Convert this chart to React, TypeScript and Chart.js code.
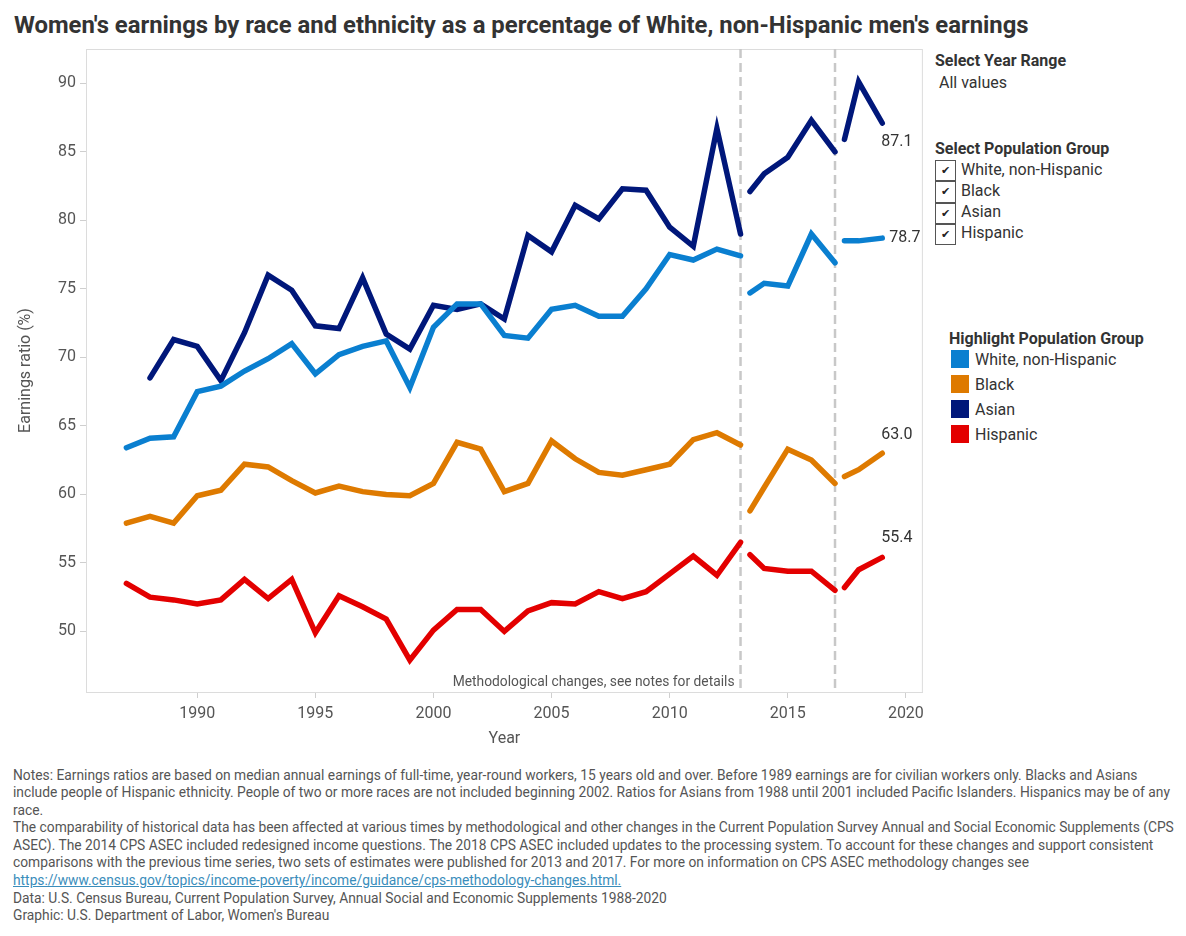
import React, { useEffect, useRef } from "react";
import { Chart, registerables } from "chart.js";

Chart.register(...registerables);

// ---------- Data ----------
const yearsMain = [
  1987, 1988, 1989, 1990, 1991, 1992, 1993, 1994, 1995, 1996, 1997, 1998, 1999,
  2000, 2001, 2002, 2003, 2004, 2005, 2006, 2007, 2008, 2009, 2010, 2011, 2012, 2013,
];
// second set of estimates (published after the 2014 and 2018 methodological changes)
const years2013Revised = [2013.4, 2014, 2015, 2016, 2017];
const years2017Revised = [2017.4, 2018, 2019];

const xTicks = [1990, 1995, 2000, 2005, 2010, 2015, 2020];
const yTicks = [50, 55, 60, 65, 70, 75, 80, 85, 90];
const methodChangeYears = [2013, 2017];

const whiteMain = [
  63.4, 64.1, 64.2, 67.5, 67.9, 69.0, 69.9, 71.0, 68.8, 70.2, 70.8, 71.2, 67.8,
  72.2, 73.9, 73.9, 71.6, 71.4, 73.5, 73.8, 73.0, 73.0, 75.0, 77.5, 77.1, 77.9, 77.4,
];
const white2013 = [74.7, 75.4, 75.2, 79.0, 76.9];
const white2017 = [78.5, 78.5, 78.7];

const blackMain = [
  57.9, 58.4, 57.9, 59.9, 60.3, 62.2, 62.0, 61.0, 60.1, 60.6, 60.2, 60.0, 59.9,
  60.8, 63.8, 63.3, 60.2, 60.8, 63.9, 62.6, 61.6, 61.4, 61.8, 62.2, 64.0, 64.5, 63.6,
];
const black2013 = [58.8, 60.5, 63.3, 62.5, 60.8];
const black2017 = [61.3, 61.8, 63.0];

const asianMain = [
  null, 68.5, 71.3, 70.8, 68.3, 71.8, 76.0, 74.9, 72.3, 72.1, 75.8, 71.7, 70.6,
  73.8, 73.5, 73.9, 72.8, 78.9, 77.7, 81.1, 80.1, 82.3, 82.2, 79.5, 78.1, 86.7, 79.0,
];
const asian2013 = [82.1, 83.4, 84.6, 87.3, 85.0];
const asian2017 = [85.9, 90.1, 87.1];

const hispanicMain = [
  53.5, 52.5, 52.3, 52.0, 52.3, 53.8, 52.4, 53.8, 49.9, 52.6, 51.8, 50.9, 47.9,
  50.1, 51.6, 51.6, 50.0, 51.5, 52.1, 52.0, 52.9, 52.4, 52.9, 54.2, 55.5, 54.1, 56.5,
];
const hispanic2013 = [55.6, 54.6, 54.4, 54.4, 53.0];
const hispanic2017 = [53.2, 54.5, 55.4];

const seriesNames = ["White, non-Hispanic", "Black", "Asian", "Hispanic"];
const seriesColors = ["#0a7fd0", "#de7a00", "#00177a", "#e30000"];

// ---------- Helpers ----------
type Pt = { x: number; y: number | null };

function buildPoints(main: (number | null)[], seg2: number[], seg3: number[]): Pt[] {
  const pts: Pt[] = [];
  main.forEach((v, i) => pts.push({ x: yearsMain[i], y: v }));
  pts.push({ x: (yearsMain[yearsMain.length - 1] + years2013Revised[0]) / 2, y: null });
  seg2.forEach((v, i) => pts.push({ x: years2013Revised[i], y: v }));
  pts.push({ x: (years2013Revised[years2013Revised.length - 1] + years2017Revised[0]) / 2, y: null });
  seg3.forEach((v, i) => pts.push({ x: years2017Revised[i], y: v }));
  return pts;
}

const seriesData = [
  buildPoints(whiteMain, white2013, white2017),
  buildPoints(blackMain, black2013, black2017),
  buildPoints(asianMain, asian2013, asian2017),
  buildPoints(hispanicMain, hispanic2013, hispanic2017),
];

// end-label placement relative to the last point: [dx, dy]
const endLabelOffsets: [number, number][] = [
  [7, 0],
  [-1, -18],
  [-1, 19],
  [-1, -19],
];

const FONT = "Roboto";

const overlayPlugin = {
  id: "overlay",
  beforeDatasetsDraw(chart: any) {
    const { ctx, chartArea, scales } = chart;
    ctx.save();
    // plot frame
    ctx.strokeStyle = "#dcdcdc";
    ctx.lineWidth = 1;
    ctx.strokeRect(chartArea.left + 0.5, chartArea.top + 0.5, chartArea.right - chartArea.left - 1, chartArea.bottom - chartArea.top);
    // dashed methodological-change lines
    ctx.strokeStyle = "#c8c8c8";
    ctx.lineWidth = 2.5;
    ctx.setLineDash([9, 5]);
    methodChangeYears.forEach((yr) => {
      const x = scales.x.getPixelForValue(yr);
      ctx.beginPath();
      ctx.moveTo(x, chartArea.top);
      ctx.lineTo(x, chartArea.bottom);
      ctx.stroke();
    });
    ctx.setLineDash([]);
    // annotation
    ctx.fillStyle = "#555";
    ctx.font = `13.8px ${FONT}`;
    ctx.textAlign = "right";
    ctx.textBaseline = "middle";
    ctx.fillText(
      "Methodological changes, see notes for details",
      scales.x.getPixelForValue(methodChangeYears[0]) - 6,
      chartArea.bottom - 9
    );
    ctx.restore();
  },
  afterDatasetsDraw(chart: any) {
    const { ctx, scales } = chart;
    ctx.save();
    ctx.fillStyle = "#333";
    ctx.font = `16px ${FONT}`;
    ctx.textAlign = "left";
    ctx.textBaseline = "middle";
    seriesData.forEach((pts, i) => {
      const last = pts[pts.length - 1];
      const x = scales.x.getPixelForValue(last.x) + endLabelOffsets[i][0];
      const y = scales.y.getPixelForValue(last.y as number) + endLabelOffsets[i][1];
      ctx.fillText((last.y as number).toFixed(1), x, y);
    });
    ctx.restore();
  },
};

function ChartCanvas() {
  const ref = useRef<HTMLCanvasElement | null>(null);
  useEffect(() => {
    if (!ref.current) return;
    Chart.defaults.font.family = FONT;
    const chart = new Chart(ref.current, {
      type: "line",
      data: {
        datasets: seriesData.map((pts, i) => ({
          label: seriesNames[i],
          data: pts as any,
          borderColor: seriesColors[i],
          backgroundColor: seriesColors[i],
          borderWidth: 5.5,
          borderCapStyle: "round",
          borderJoinStyle: "miter",
          pointRadius: 0,
          pointHoverRadius: 0,
          spanGaps: false,
          tension: 0,
        })),
      },
      options: {
        animation: false,
        responsive: false,
        devicePixelRatio: 1,
        layout: { padding: { top: 49, right: 7, left: 0, bottom: 0 } },
        plugins: {
          legend: { display: false },
          tooltip: { enabled: false },
        },
        scales: {
          x: {
            type: "linear",
            min: 1985.29,
            max: 2020.72,
            afterBuildTicks: (s: any) => {
              s.ticks = xTicks.map((v) => ({ value: v }));
            },
            afterFit: (s: any) => {
              s.height = 68;
            },
            ticks: {
              color: "#555",
              font: { size: 16, family: FONT },
              padding: 6,
              maxRotation: 0,
              callback: (v: any) => String(v),
            },
            grid: { drawOnChartArea: false, color: "#cfcfcf", tickLength: 6 },
            border: { display: true, color: "#dcdcdc" },
            title: {
              display: true,
              text: "Year",
              color: "#555",
              font: { size: 16, family: FONT },
              padding: { top: 0, bottom: 11.5 },
            },
          },
          y: {
            type: "linear",
            min: 45.58,
            max: 92.5,
            afterBuildTicks: (s: any) => {
              s.ticks = yTicks.map((v) => ({ value: v }));
            },
            afterFit: (s: any) => {
              s.width = 86;
            },
            ticks: {
              color: "#555",
              font: { size: 16, family: FONT },
              padding: 4,
            },
            grid: { drawOnChartArea: false, color: "#cfcfcf", tickLength: 6 },
            border: { display: true, color: "#dcdcdc" },
            title: {
              display: true,
              text: "Earnings ratio (%)",
              color: "#555",
              font: { size: 16, family: FONT },
              padding: { top: 16.4, bottom: 0 },
            },
          },
        },
      },
      plugins: [overlayPlugin],
    });
    return () => chart.destroy();
  }, []);
  return (
    <canvas
      ref={ref}
      width={930}
      height={760}
      style={{ position: "absolute", left: 0, top: 0, width: 930, height: 760 }}
    />
  );
}

const noteLines = [
  "Notes: Earnings ratios are based on median annual earnings of full-time, year-round workers, 15 years old and over. Before 1989 earnings are for civilian workers only. Blacks and Asians",
  "include people of Hispanic ethnicity. People of two or more races are not included beginning 2002. Ratios for Asians from 1988 until 2001 included Pacific Islanders. Hispanics may be of any",
  "race.",
  "The comparability of historical data has been affected at various times by methodological and other changes in the Current Population Survey Annual and Social Economic Supplements (CPS",
  "ASEC). The 2014 CPS ASEC included redesigned income questions. The 2018 CPS ASEC included updates to the processing system. To account for these changes and support consistent",
  "comparisons with the previous time series, two sets of estimates were published for 2013 and 2017. For more on information on CPS ASEC methodology changes see",
];
const noteLink = "https://www.census.gov/topics/income-poverty/income/guidance/cps-methodology-changes.html.";
const sourceLines = [
  "Data: U.S. Census Bureau, Current Population Survey, Annual Social and Economic Supplements 1988-2020",
  "Graphic: U.S. Department of Labor, Women's Bureau",
];

export default function App() {
  const abs = (left: number, top: number, extra: React.CSSProperties = {}): React.CSSProperties => ({
    position: "absolute",
    left,
    top,
    whiteSpace: "nowrap",
    ...extra,
  });
  const lbl: React.CSSProperties = { fontSize: 16, lineHeight: "18px", color: "#333" };
  const bold: React.CSSProperties = { fontSize: 16, lineHeight: "18px", color: "#333", fontWeight: 700 };

  return (
    <div
      style={{
        position: "absolute",
        left: 0,
        top: 0,
        width: 1186,
        height: 936,
        background: "#fff",
        fontFamily: FONT,
        overflow: "hidden",
      }}
    >
      <div style={abs(14, 10.5, { fontSize: 23.85, lineHeight: "28px", fontWeight: 700, color: "#333" })}>
        Women's earnings by race and ethnicity as a percentage of White, non-Hispanic men's earnings
      </div>

      <ChartCanvas />

      {/* Right-hand controls */}
      <div style={abs(935, 51.5, bold)}>Select Year Range</div>
      <div style={abs(939, 73.5, lbl)}>All values</div>
      <div style={abs(935, 139.5, bold)}>Select Population Group</div>
      {seriesNames.map((name, i) => (
        <React.Fragment key={name}>
          <div
            style={abs(935, 160 + i * 21.3, {
              width: 19,
              height: 19.3,
              border: "1px solid #555",
              boxSizing: "content-box",
              display: "flex",
              alignItems: "center",
              justifyContent: "center",
              fontSize: 11,
              color: "#222",
              fontFamily: "DejaVu Sans",
            })}
          >
            ✔
          </div>
          <div style={abs(961, 160 + i * 21.3 + 0.5, lbl)}>{name}</div>
        </React.Fragment>
      ))}

      <div style={abs(949, 329.5, bold)}>Highlight Population Group</div>
      {seriesNames.map((name, i) => (
        <React.Fragment key={"h" + name}>
          <div style={abs(951, 350 + i * 25, { width: 17.5, height: 17.5, background: seriesColors[i] })} />
          <div style={abs(975, 350.5 + i * 25, lbl)}>{name}</div>
        </React.Fragment>
      ))}

      {/* Notes */}
      <div style={abs(13, 766.5, { fontSize: 13.8, lineHeight: "17.6px", color: "#555" })}>
        {noteLines.map((l, i) => (
          <div key={i}>{l}</div>
        ))}
        <div>
          <span style={{ color: "#3a8dbb", textDecoration: "underline" }}>{noteLink}</span>
        </div>
        {sourceLines.map((l, i) => (
          <div key={"s" + i}>{l}</div>
        ))}
      </div>
    </div>
  );
}
